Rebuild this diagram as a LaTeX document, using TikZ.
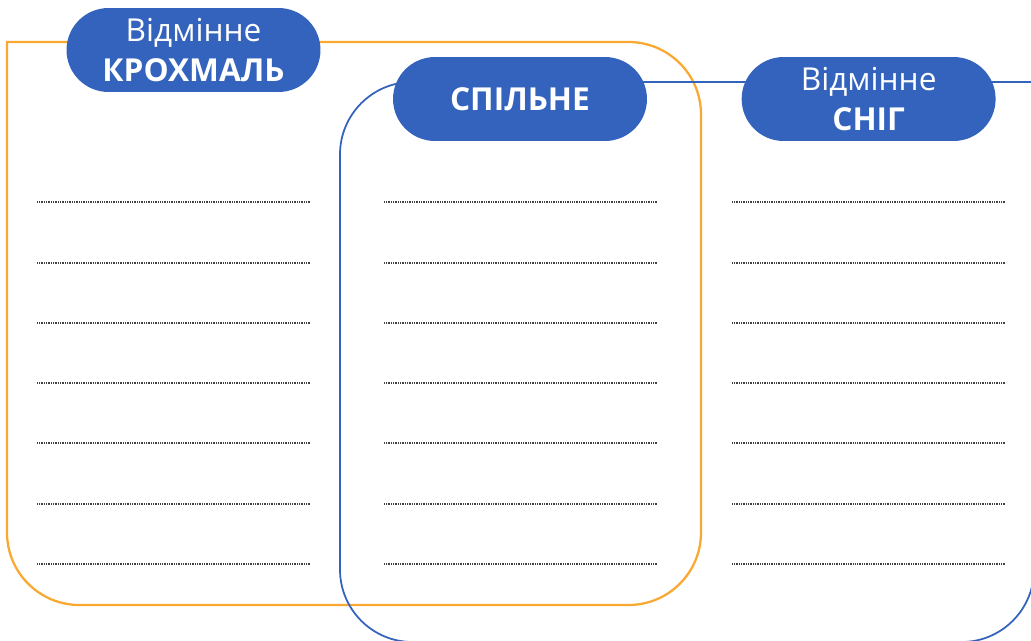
\documentclass[tikz,border=0pt]{standalone}
\usepackage{fontspec}
\setmainfont{Open Sans}
\usetikzlibrary{positioning}
\definecolor{pillblue}{HTML}{3463BE}
\definecolor{frameorange}{HTML}{F9A932}
\begin{document}
\begin{tikzpicture}[x=0.02cm,y=-0.02cm]
  	\tikzstyle{pill}=[rectangle, rounded corners=0.84cm, fill=pillblue, text=white, minimum width=5.08cm, minimum height=1.68cm, align=center, inner sep=0pt, font=\fontsize{18}{22.5}\selectfont]
  	\tikzstyle{dotline}=[black!75, line width=0.6pt, dash pattern=on 0.5pt off 0.5pt]
  	\useasboundingbox (0,0) rectangle (1031,640);
  	% frames
  	\draw[frameorange, line width=1.3pt, rounded corners=1.45cm, line cap=rect] (7,42) -- (701,42) -- (701,605) -- (7,605) -- (7,42);
  	\draw[pillblue, line width=1pt, rounded corners=1.45cm, line cap=rect] (1034,82) -- (1034,642) -- (340,642) -- (340,82) -- (1034,82);
  	% writing lines
  	\foreach \y in {202,263,323,383,443,504,564}{
  	  \draw[dotline] (37,\y) -- (310,\y);
  	  \draw[dotline] (384,\y) -- (658,\y);
  	  \draw[dotline] (732,\y) -- (1005,\y);
  	}
  	\node[pill] (starch) at (193.5,50) {Відмінне\\\textbf{КРОХМАЛЬ}};
  	\node[pill] (common) at (520,99) {\textbf{СПІЛЬНЕ}};
  	\node[pill, right=1.88cm of common] (snow) {Відмінне\\\textbf{СНІГ}};
\end{tikzpicture}
\end{document}
